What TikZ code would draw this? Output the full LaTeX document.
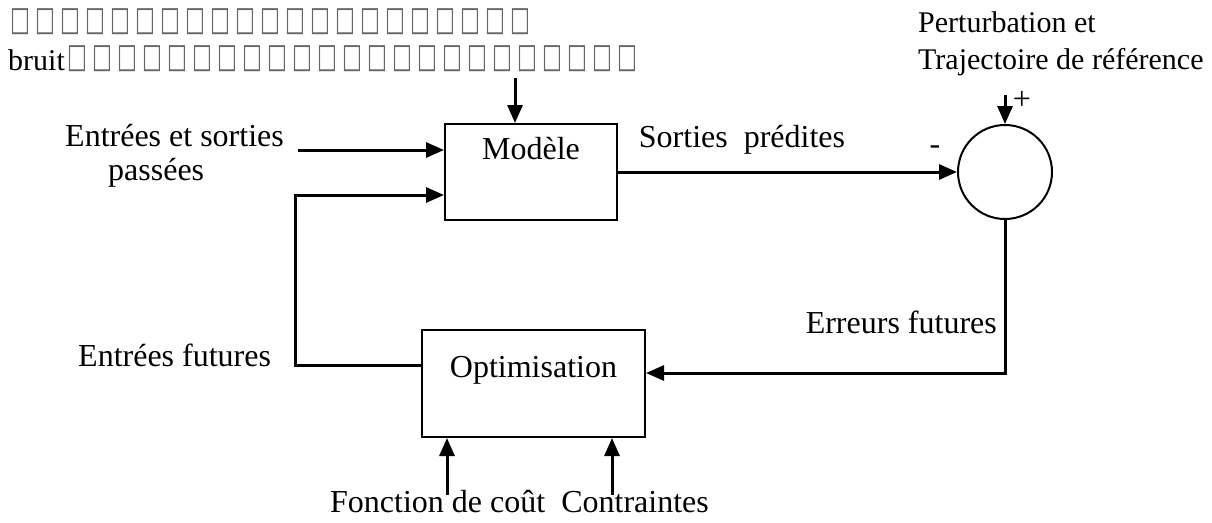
\documentclass[tikz,border=0pt]{standalone}
\usepackage{fontspec}
\setmainfont{Liberation Serif}
\newfontfamily\tofufont{DejaVu Sans}
\usepackage{graphicx}
\usetikzlibrary{arrows.meta, positioning}
\newcommand\tofu{\makebox[25pt]{\tofufont\fontsize{34}{34}\selectfont\color{black!60}\raisebox{3pt}{\scalebox{0.62}[1]{□}}}}

\begin{document}
\begin{tikzpicture}[
    x=1pt, y=-1pt,
    every node/.style={font=\fontsize{32}{34}\selectfont, inner sep=0pt},
    blk/.style={draw, line width=2pt},
    sumc/.style={circle, draw, line width=2pt, minimum size=94pt},
    arr/.style={-{Triangle[length=18pt, width=15pt]}, line width=3pt}
]
\useasboundingbox (0,0) rectangle (1212,522);
\node[blk, minimum width=172pt, minimum height=96pt] (model) at (531,172) {};
\node[below=14pt of model.north] (modeltxt) {Modèle};
\node[blk, minimum width=223pt, minimum height=107pt] (opt) at (533.5,383.5) {};
\node[below=27pt of opt.north] (opttxt) {Optimisation};
\node[sumc] (sum) at (1005,172) {};
% texts
\node[anchor=west] (noise1) at (8,22) {\foreach \i in {1,...,21}{\tofu}};
\node[anchor=west, font=\fontsize{30}{32}\selectfont] (noise2) at (8,59) {bruit\foreach \i in {1,...,23}{\tofu}};
\node[align=left, anchor=north west, font=\fontsize{30}{37}\selectfont] (ref) at (918,11) {Perturbation et\\Trajectoire de référence};
\node[align=left, anchor=north west] (past) at (65,124) {Entrées et sorties\\\hspace{43pt}passées};
\node (pred) at (742,140) {Sorties\ \ prédites};
\node (minus) at (935,150) {-};
\node (plus) at (1022,100) {+};
\node[anchor=east] (errtxt) at (997,322) {Erreurs futures};
\node[anchor=west] (futin) at (78,355) {Entrées futures};
\node[anchor=west] (costtxt) at (330,502) {Fonction de coût\ \ Contraintes};
% connectors
\coordinate (noise) at (515,78);
\coordinate (pastin) at (298,150);
\coordinate (fb) at (295,365);
\coordinate (fbtop) at (295,195);
\coordinate (refin) at (1005,95);
\coordinate (err) at (1005,373);
\coordinate (cost) at (447,495);
\coordinate (cons) at (612,495);
\draw[arr] (noise) -- (noise |- model.north);
\draw[arr] (pastin) -- (model.west |- pastin);
\draw[arr] (opt.west |- fb) -- (fb) -- (fbtop) -- (model.west |- fbtop);
\draw[arr] (model.east) -- (sum.west);
\draw[arr] (refin) -- (sum.north);
\draw[arr] (sum.south) -- (err) -- (opt.east |- err);
\draw[arr] (cost) -- (cost |- opt.south);
\draw[arr] (cons) -- (cons |- opt.south);
\end{tikzpicture}
\end{document}
